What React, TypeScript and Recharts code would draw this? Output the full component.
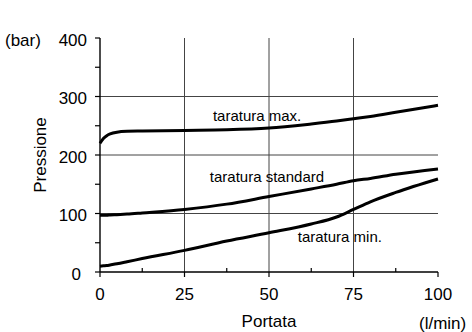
import React from "react";
import { LineChart, Line, XAxis, YAxis, CartesianGrid, ReferenceDot, Customized } from "recharts";

const portata = [0, 1, 2, 3, 5, 8, 12.5, 25, 37.5, 50, 62.5, 70, 75, 80, 87.5, 100];
const taraturaMax = [220, 228, 233, 236, 239, 240.5, 241, 242, 243, 246, 253, 258, 262, 266, 273, 285];
const taraturaStandard = [97, 97, 97, 97.5, 98, 99, 101, 107, 116, 129, 142, 150, 156, 160, 167, 176];
const taraturaMin = [10, 10.5, 11, 12, 14, 17.5, 23, 37, 53, 67, 82, 94, 107, 120, 136, 159];

const xTicks = [0, 12.5, 25, 37.5, 50, 62.5, 75, 87.5, 100];
const xMajor = [0, 25, 50, 75, 100];
const yTicks = [0, 50, 100, 150, 200, 250, 300, 350, 400];
const yMajor = [0, 100, 200, 300, 400];
const gridX = [25, 50, 75];
const gridY = [100, 200, 300];

const annotations = [
  { text: "taratura max.", x: 33.4, y: 258 },
  { text: "taratura standard", x: 32.5, y: 154 },
  { text: "taratura min.", x: 58.5, y: 52 },
];

const data = portata.map((p, i) => ({
  portata: p,
  max: taraturaMax[i],
  standard: taraturaStandard[i],
  min: taraturaMin[i],
}));

const FONT = "'Liberation Sans', Arial, sans-serif";

const XTick = (props: any) => {
  const { x, y, payload } = props;
  const major = xMajor.includes(payload.value);
  if (major) {
    return (
      <g>
        <line x1={x} y1={y} x2={x} y2={y + 5} stroke="#000" strokeWidth={1.2} />
        <text x={x} y={y + 28} textAnchor="middle" fontSize={17} fontFamily={FONT} fill="#000">
          {payload.value}
        </text>
      </g>
    );
  }
  return <line x1={x} y1={y} x2={x} y2={y - 4} stroke="#000" strokeWidth={1.2} />;
};

const YTick = (props: any) => {
  const { x, y, payload } = props;
  const major = yMajor.includes(payload.value);
  const offset = payload.value === 0 ? 19 : 13;
  return (
    <g>
      <line x1={x - 5} y1={y} x2={x} y2={y} stroke="#000" strokeWidth={1.2} />
      {major && (
        <text x={x - offset} y={y + 7.5} textAnchor="end" fontSize={17} fontFamily={FONT} fill="#000">
          {payload.value}
        </text>
      )}
    </g>
  );
};

const Titles = () => (
  <g fontFamily={FONT} fill="#000">
    <text x={5} y={46} fontSize={17}>(bar)</text>
    <text x={46} y={155} fontSize={17} textAnchor="middle" transform="rotate(-90 46 155)">Pressione</text>
    <text x={269} y={327} fontSize={17} textAnchor="middle">Portata</text>
    <text x={419} y={329} fontSize={17}>(l/min)</text>
  </g>
);

export default function App() {
  return (
    <div style={{ position: "absolute", left: 0, top: 0, width: 472, height: 332, background: "#fff" }}>
      <LineChart width={472} height={332} data={data} margin={{ top: 38, right: 34, bottom: 0, left: 0 }}>
        <CartesianGrid
          horizontalValues={gridY}
          verticalValues={gridX}
          stroke="#444"
          strokeWidth={1}
        />
        <XAxis
          dataKey="portata"
          type="number"
          domain={[0, 100]}
          ticks={xTicks}
          interval={0}
          tick={<XTick />}
          tickSize={0}
          tickMargin={0}
          tickLine={false}
          axisLine={{ stroke: "#000", strokeWidth: 1.4 }}
          height={60}
        />
        <XAxis
          xAxisId="top"
          orientation="top"
          dataKey="portata"
          type="number"
          domain={[0, 100]}
          tick={false}
          tickLine={false}
          axisLine={{ stroke: "#000", strokeWidth: 1.4 }}
          height={0}
        />
        <YAxis
          type="number"
          domain={[0, 400]}
          ticks={yTicks}
          interval={0}
          tick={<YTick />}
          tickSize={0}
          tickMargin={0}
          tickLine={false}
          axisLine={{ stroke: "#000", strokeWidth: 1.4 }}
          width={100}
        />
        <YAxis
          yAxisId="right"
          orientation="right"
          type="number"
          domain={[0, 400]}
          tick={false}
          tickLine={false}
          axisLine={{ stroke: "#000", strokeWidth: 1.4 }}
          width={0}
        />
        <Line type="monotone" dataKey="max" stroke="#000" strokeWidth={3} dot={false} isAnimationActive={false} />
        <Line type="monotone" dataKey="standard" stroke="#000" strokeWidth={3} dot={false} isAnimationActive={false} />
        <Line type="monotone" dataKey="min" stroke="#000" strokeWidth={3} dot={false} isAnimationActive={false} />
        {annotations.map((a) => (
          <ReferenceDot
            key={a.text}
            x={a.x}
            y={a.y}
            r={0}
            ifOverflow="visible"
            shape={(p: any) => (
              <text x={p.cx} y={p.cy} fontSize={15} fontFamily={FONT} fill="#000">
                {a.text}
              </text>
            )}
          />
        ))}
        <Customized component={Titles} />
      </LineChart>
    </div>
  );
}
